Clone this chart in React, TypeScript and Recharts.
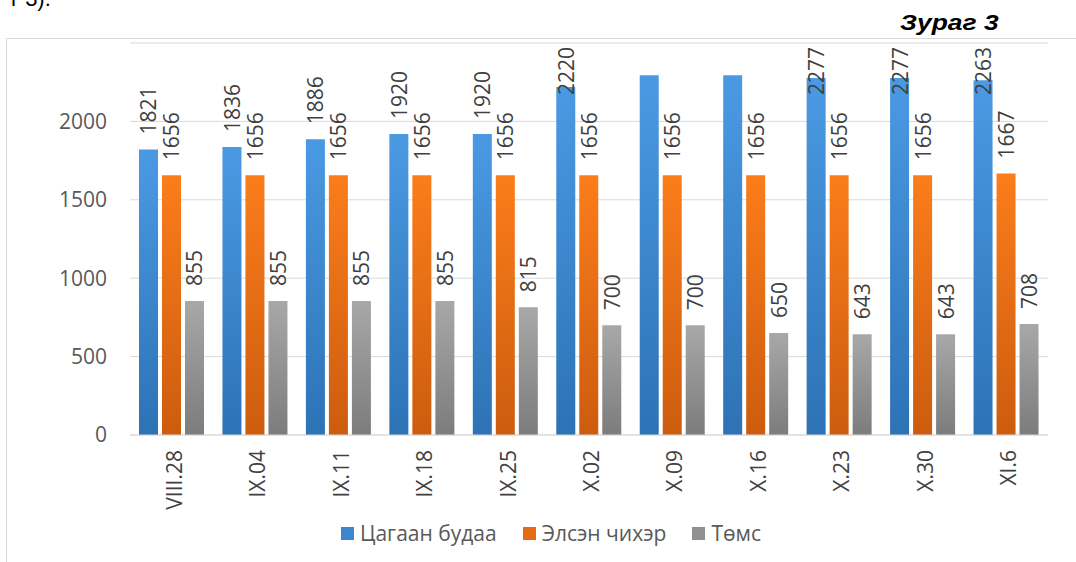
import React from 'react';
import { BarChart, Bar, XAxis, YAxis, CartesianGrid, Legend, LabelList } from 'recharts';

const categories = ['VIII.28', 'IX.04', 'IX.11', 'IX.18', 'IX.25', 'X.02', 'X.09', 'X.16', 'X.23', 'X.30', 'XI.6'];
const riceValues = [1821, 1836, 1886, 1920, 1920, 2220, 2295, 2295, 2277, 2277, 2263];
const sugarValues = [1656, 1656, 1656, 1656, 1656, 1656, 1656, 1656, 1656, 1656, 1667];
const potatoValues = [855, 855, 855, 855, 815, 700, 700, 650, 643, 643, 708];
const yTicks = [0, 500, 1000, 1500, 2000];
// these two rice labels are not shown in the original
const hiddenRiceLabels = ['X.09', 'X.16'];

const series = [
  { key: 'rice', name: 'Цагаан будаа', top: '#4a9ae3', bottom: '#2d72b5', legend: '#3d85cc' },
  { key: 'sugar', name: 'Элсэн чихэр', top: '#fb7d1b', bottom: '#cc5c0e', legend: '#e56c14' },
  { key: 'potato', name: 'Төмс', top: '#a8a8a8', bottom: '#7c7c7c', legend: '#909090' },
];

const data = categories.map((name, i) => ({
  name,
  rice: riceValues[i],
  sugar: sugarValues[i],
  potato: potatoValues[i],
}));

const FONT = "'Open Sans', sans-serif";
const CHART_W = 1068;
const CHART_H = 523;
const MARGIN = { top: 4, right: 27, bottom: 15, left: 0 };

const makeLabel = (hidden: string[]) => (props: any) => {
  const vb = props.viewBox ?? props;
  const x = vb.x ?? props.x;
  const y = vb.y ?? props.y;
  const width = vb.width ?? props.width;
  if (props.index != null && hidden.includes(categories[props.index])) return null;
  const cx = x + width / 2;
  const len = String(props.value).length * 12;
  const bottom = Math.max(y - 15, MARGIN.top + 4 + len);
  return (
    <text
      x={cx}
      y={bottom}
      transform={`rotate(-90, ${cx}, ${bottom})`}
      textAnchor="start"
      dominantBaseline="central"
      fill="#404040"
      fontSize={21}
      fontFamily={FONT}
    >
      {props.value}
    </text>
  );
};

const CategoryTick = (props: any) => {
  const { x, y, payload } = props;
  return (
    <text
      x={x + 2}
      y={y}
      transform={`rotate(-90, ${x + 2}, ${y})`}
      textAnchor="end"
      dominantBaseline="central"
      fill="#404040"
      fontSize={21}
      fontFamily={FONT}
    >
      {payload.value}
    </text>
  );
};

const renderLegend = () => (
  <div
    style={{
      display: 'flex',
      justifyContent: 'center',
      alignItems: 'center',
      height: 28,
      fontFamily: FONT,
      fontSize: 21,
      color: '#595959',
    }}
  >
    {series.map(s => (
      <div key={s.key} style={{ display: 'flex', alignItems: 'center', margin: '0 13px' }}>
        <span style={{ width: 13, height: 13, background: s.legend, marginRight: 6, display: 'inline-block' }} />
        <span>{s.name}</span>
      </div>
    ))}
  </div>
);

export default function App() {
  return (
    <div style={{ position: 'absolute', left: 0, top: 0, width: 1076, height: 562, overflow: 'hidden', background: '#fff' }}>
      <div
        style={{
          position: 'absolute',
          left: 11,
          top: -13,
          fontFamily: "'Liberation Sans', Arial, sans-serif",
          fontSize: 22,
          lineHeight: '24px',
          color: '#000',
        }}
      >
        г 3).
      </div>
      <div
        style={{
          position: 'absolute',
          left: 900,
          top: 11,
          fontFamily: "'Liberation Sans', Arial, sans-serif",
          fontSize: 22,
          lineHeight: '24px',
          fontWeight: 'bold',
          fontStyle: 'italic',
          color: '#000',
          transform: 'scaleX(1.2)',
          transformOrigin: 'left center',
          zIndex: 2,
        }}
      >
        Зураг 3
      </div>
      <div
        style={{
          position: 'absolute',
          left: 6,
          top: 38,
          width: 1100,
          height: 600,
          borderLeft: '1px solid #d9d9d9',
          borderTop: '1px solid #d9d9d9',
        }}
      >
        <BarChart width={CHART_W} height={CHART_H} data={data} margin={MARGIN} barGap={4} barCategoryGap={9}>
          <defs>
            {series.map(s => (
              <linearGradient key={s.key} id={`grad-${s.key}`} x1="0" y1="0" x2="0" y2="1">
                <stop offset="0%" stopColor={s.top} />
                <stop offset="100%" stopColor={s.bottom} />
              </linearGradient>
            ))}
          </defs>
          <CartesianGrid vertical={false} stroke="#d9d9d9" />
          <XAxis
            dataKey="name"
            height={84}
            tickLine={false}
            tickSize={0}
            tickMargin={15}
            axisLine={{ stroke: '#d9d9d9' }}
            tick={<CategoryTick />}
            interval={0}
          />
          <YAxis
            width={123}
            domain={[0, 2500]}
            ticks={yTicks}
            axisLine={false}
            tickLine={false}
            tickSize={0}
            tickMargin={23}
            tick={{ fill: '#595959', fontSize: 21, fontFamily: FONT }}
          />
          <Legend
            verticalAlign="bottom"
            content={renderLegend}
            height={28}
            wrapperStyle={{ left: 10, width: CHART_W }}
          />
          {series.map(s => (
            <Bar key={s.key} dataKey={s.key} name={s.name} fill={`url(#grad-${s.key})`} isAnimationActive={false}>
              <LabelList dataKey={s.key} content={makeLabel(s.key === 'rice' ? hiddenRiceLabels : [])} />
            </Bar>
          ))}
        </BarChart>
      </div>
    </div>
  );
}
